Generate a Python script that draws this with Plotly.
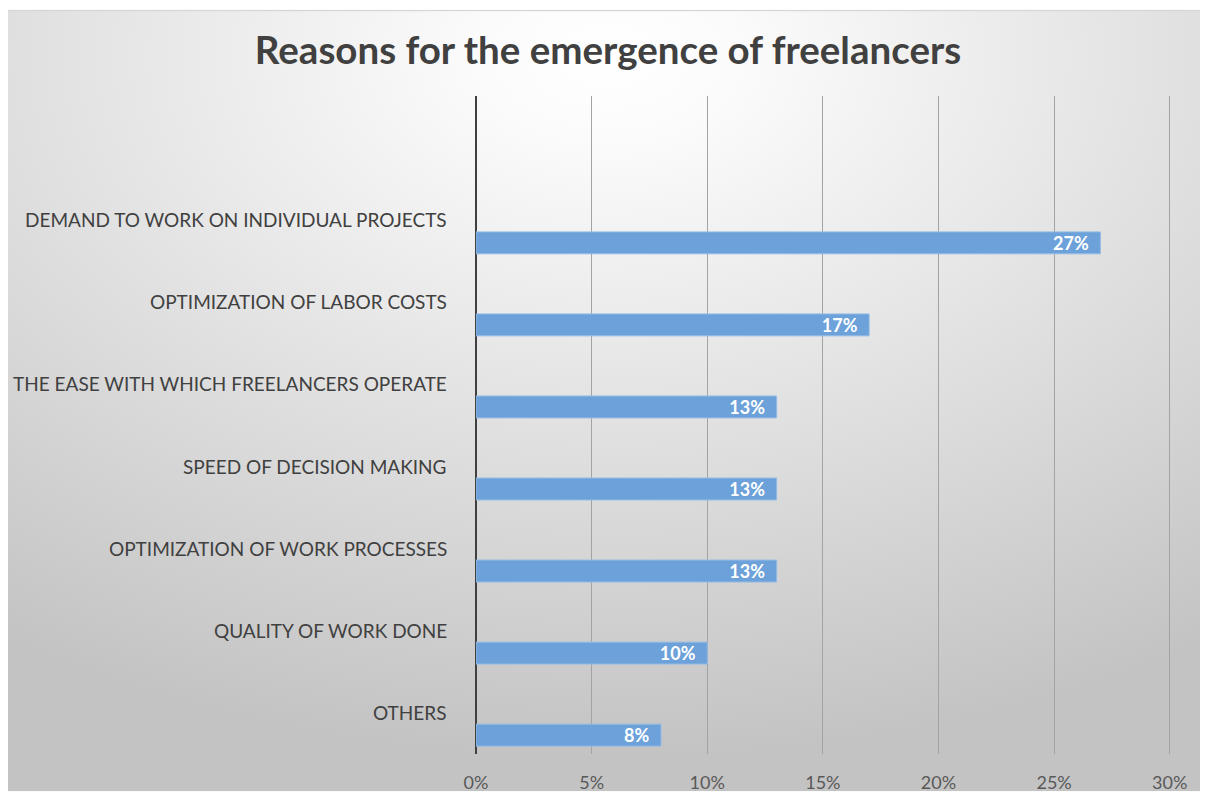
import plotly.graph_objects as go
import urllib.parse

categories = [
    "DEMAND TO WORK ON INDIVIDUAL PROJECTS",
    "OPTIMIZATION OF LABOR COSTS",
    "THE EASE WITH WHICH FREELANCERS OPERATE",
    "SPEED OF DECISION MAKING",
    "OPTIMIZATION OF WORK PROCESSES",
    "QUALITY OF WORK DONE",
    "OTHERS",
]
values = [27, 17, 13, 13, 13, 10, 8]
tick_values = [0, 5, 10, 15, 20, 25, 30]
tick_labels = ["0%", "5%", "10%", "15%", "20%", "25%", "30%"]
title_text = "Reasons for the emergence of freelancers"

W, H = 1200, 797
ML, MR, MT, MB = 468, 29, 88, 38
PW = W - ML - MR
PH = H - MT - MB

cats = categories[::-1]
vals = values[::-1]

fig = go.Figure()
fig.add_trace(go.Bar(
    y=cats, x=vals, orientation="h",
    width=0.267,
    marker=dict(color="#6CA1D9", line=dict(color="#92BBE5", width=1)),
    text=[f"{v}%\u00a0\u00a0" for v in vals],
    textposition="inside", insidetextanchor="end", constraintext="none",
    textfont=dict(family="Lato", size=18, color="white", weight="bold"),
    hoverinfo="skip",
))

for c in cats:
    fig.add_annotation(
        x=0, y=c, xref="x", yref="y", text=c, showarrow=False,
        xanchor="right", yanchor="middle", xshift=-27, yshift=23,
        font=dict(family="Lato", size=19, color="#404040"),
    )

svg = (
    f'<svg xmlns="http://www.w3.org/2000/svg" width="{W}" height="{H}" '
    f'preserveAspectRatio="none" viewBox="0 0 {W} {H}">'
    '<defs><radialGradient id="g" cx="0.5" cy="0.06" r="0.9">'
    '<stop offset="0" stop-color="#ffffff"/>'
    '<stop offset="0.12" stop-color="#fbfbfb"/>'
    '<stop offset="1" stop-color="#c3c3c3"/>'
    '</radialGradient></defs>'
    f'<rect width="{W}" height="{H}" fill="url(#g)"/>'
    f'<rect x="0" y="0" width="{W}" height="1.5" fill="#d6d6d6"/>'
    '</svg>'
)
src = "data:image/svg+xml;charset=utf-8," + urllib.parse.quote(svg)
fig.add_layout_image(dict(
    source=src, xref="paper", yref="paper",
    x=-ML / PW, y=(H - MB) / PH, sizex=W / PW, sizey=H / PH,
    xanchor="left", yanchor="top", sizing="stretch", layer="below",
))

fig.update_layout(
    width=W, height=H,
    margin=dict(l=ML, r=MR, t=MT, b=MB, pad=0),
    paper_bgcolor="white", plot_bgcolor="rgba(0,0,0,0)",
    showlegend=False,
    title=dict(
        text=f"<b>{title_text}</b>", x=0.5, xref="container", xanchor="center",
        y=1 - 43 / H, yref="container", yanchor="middle",
        font=dict(family="Lato", size=38.5, color="#404040"),
    ),
    xaxis=dict(
        range=[0, 30.4], tickvals=tick_values, ticktext=tick_labels,
        showgrid=True, gridcolor="#a3a3a3", gridwidth=1,
        zeroline=True, zerolinecolor="#404040", zerolinewidth=2,
        showline=False, ticks="", ticklabelstandoff=16,
        tickfont=dict(family="Lato", size=18, color="#595959"),
        fixedrange=True,
    ),
    yaxis=dict(
        categoryorder="array", categoryarray=cats,
        range=[-0.23, 7.79], showticklabels=False, showgrid=False,
        zeroline=False, showline=False, ticks="", fixedrange=True,
    ),
)

fig.write_html("out.html")
